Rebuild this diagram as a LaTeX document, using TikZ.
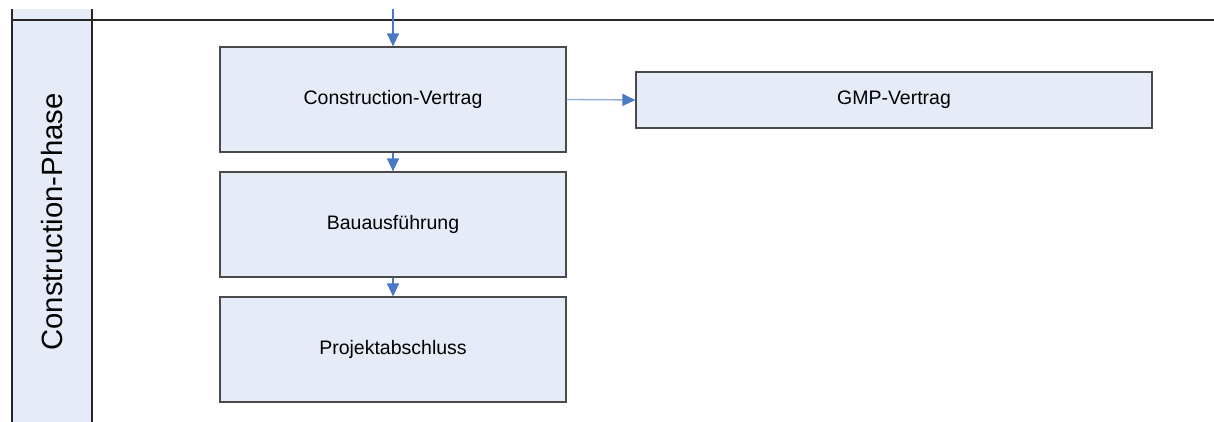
\documentclass[tikz,border=0pt]{standalone}
\usepackage{fontspec}
\setmainfont{Liberation Sans}
\usetikzlibrary{arrows.meta}
\definecolor{laneFill}{HTML}{E6ECF7}
\definecolor{boxFill}{HTML}{E6ECF7}
\definecolor{boxLine}{HTML}{4A4A4A}
\definecolor{flowBlue}{HTML}{4A78C4}
\definecolor{flowLight}{HTML}{8EAADB}
\begin{document}
\begin{tikzpicture}[x=1pt,y=-1pt,
  stepbox/.style={draw=boxLine,line width=1.2pt,fill=boxFill,rectangle,
    minimum width=346pt,minimum height=105pt,inner sep=0pt,
    font=\fontsize{19.5}{22}\selectfont},
  flow/.style={draw=flowBlue,line width=1.3pt,
    -{Triangle[width=12pt,length=13pt]}},
  lightflow/.style={draw=flowLight,line width=1.3pt,
    -{Triangle[width=12pt,length=13pt,color=flowBlue]}},
  laneline/.style={draw=black!85,line width=2pt}]
\useasboundingbox (0,0) rectangle (1214,422);
% swimlane header
\fill[laneFill] (12,9) rectangle (92,422);
\draw[laneline] (12,9) -- (12,422);
\draw[laneline] (92,9) -- (92,422);
\draw[laneline] (12,20) -- (1214,20);
\node[rotate=90,font=\fontsize{29.3}{32}\selectfont] (lane) at (52,222) {Construction-Phase};
% process steps
\coordinate (entry) at (393,9);
\node[stepbox] (vertrag) at (393,99.5) {Construction-Vertrag};
\node[stepbox] (bau) at (393,224.5) {Bauausführung};
\node[stepbox] (abschluss) at (393,349.5) {Projektabschluss};
\node[stepbox,minimum width=516pt,minimum height=56pt] (gmp) at (894,100) {GMP-Vertrag};
% connectors
\draw[flow] (entry) -- (vertrag.north);
\draw[flow] (vertrag.south) -- (bau.north);
\draw[flow] (bau.south) -- (abschluss.north);
\draw[lightflow] (vertrag.east) -- (gmp.west);
\end{tikzpicture}
\end{document}
